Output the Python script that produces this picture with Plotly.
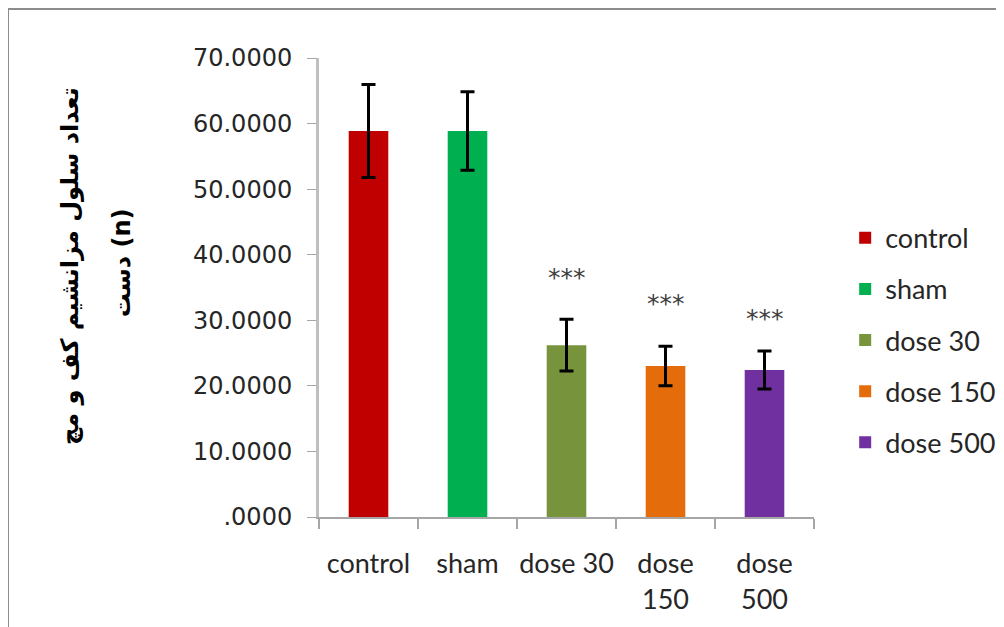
import plotly.graph_objects as go

categories = ["control", "sham", "dose 30", "dose 150", "dose 500"]
tick_labels = ["control", "sham", "dose 30", "dose<br>150", "dose<br>500"]
means = [58.87, 58.87, 26.2, 23.03, 22.42]
errors = [7.1, 6.0, 3.95, 3.0, 2.9]
colors = ["#C00000", "#00B050", "#77933C", "#E46C0A", "#7030A0"]
star_labels = ["", "", "***", "***", "***"]
star_y = [0, 0, 36.6, 32.6, 30.3]
yticks = [0, 10, 20, 30, 40, 50, 60, 70]
ytick_text = [".0000", "10.0000", "20.0000", "30.0000", "40.0000", "50.0000", "60.0000", "70.0000"]
title_line1 = "تعداد سلول مزانشیم کف و مچ"
title_line2 = "دست (n)"

fig = go.Figure()
for i, c in enumerate(categories):
    fig.add_trace(go.Bar(
        x=[c], y=[means[i]], name=c, width=0.4,
        marker=dict(color=colors[i], line=dict(width=0)),
        error_y=dict(type="data", array=[errors[i]], color="black", thickness=3, width=7),
        legendgroup=c,
    ))

for i, c in enumerate(categories):
    if star_labels[i]:
        fig.add_annotation(x=c, y=star_y[i], text=star_labels[i], showarrow=False,
                           font=dict(family="DejaVu Sans", size=25, color="#404040"))

fig.add_annotation(xref="paper", yref="paper", x=-0.503, y=0.547, xanchor="center", yanchor="middle",
                   text="<b>" + title_line1 + "</b>",
                   textangle=-90, showarrow=False,
                   font=dict(family="DejaVu Sans", size=24, color="black"))
fig.add_annotation(xref="paper", yref="paper", x=-0.398, y=0.555, xanchor="center", yanchor="middle",
                   text="<b>" + title_line2 + "</b>",
                   textangle=-90, showarrow=False,
                   font=dict(family="DejaVu Sans", size=24, color="black"))

fig.add_shape(type="rect", xref="paper", yref="paper", x0=-0.6283, x1=1.5, y0=-0.4, y1=1.1068,
              line=dict(color="#8C8C8C", width=2), layer="below")

fig.update_layout(
    width=996, height=619,
    margin=dict(l=311, r=190, t=50, b=110, autoexpand=False),
    paper_bgcolor="white", plot_bgcolor="white",
    barmode="overlay",
    showlegend=True,
    legend=dict(x=1.063, y=0.385, yanchor="middle", xanchor="left",
                font=dict(family="Lato", size=27, color="#262626"),
                tracegroupgap=13, bgcolor="rgba(0,0,0,0)"),
    xaxis=dict(categoryorder="array", categoryarray=categories,
               tickvals=categories, ticktext=tick_labels, tickangle=0, automargin=False,
               tickson="boundaries", ticks="outside", ticklen=10, tickcolor="#A6A6A6", tickwidth=2,
               showline=True, linecolor="#A6A6A6", linewidth=2,
               tickfont=dict(family="Lato", size=27, color="#262626"),
               showgrid=False, zeroline=False, ticklabelstandoff=22),
    yaxis=dict(range=[0, 70], tickvals=yticks, ticktext=ytick_text, automargin=False,
               ticks="outside", ticklen=9, tickcolor="#A6A6A6", tickwidth=1,
               showline=True, linecolor="#BFBFBF", linewidth=3,
               tickfont=dict(family="DejaVu Sans", size=24, color="#262626"),
               showgrid=False, zeroline=False, ticklabelstandoff=10),
)

fig.write_html("out.html")
